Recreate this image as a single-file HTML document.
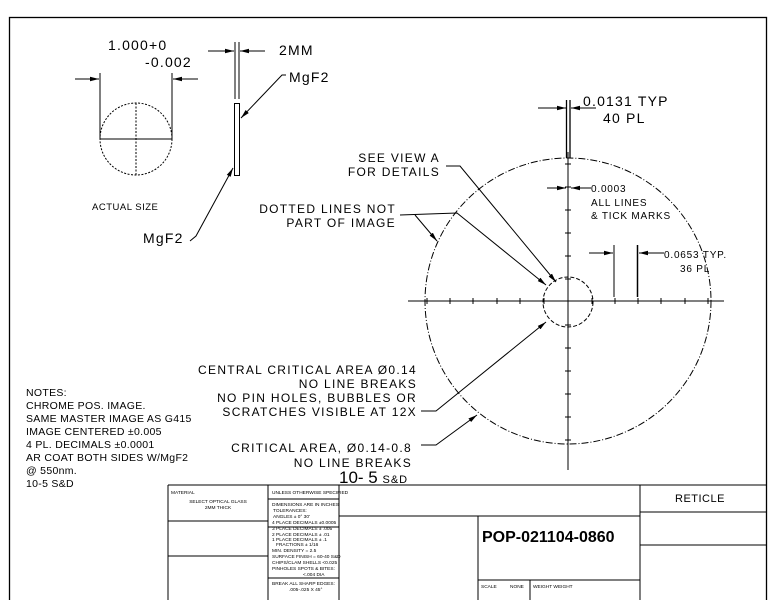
<!DOCTYPE html><html><head><style>body{margin:0;background:#fff}svg{display:block}text{font-family:"Liberation Sans",sans-serif;fill:#000}</style></head><body>
<svg width="776" height="600" viewBox="0 0 776 600" xmlns="http://www.w3.org/2000/svg">
<defs><marker id="a" markerWidth="10" markerHeight="6" refX="9" refY="3" orient="auto" markerUnits="userSpaceOnUse"><path d="M0,0.8 L9,3 L0,5.2z" fill="#000"/></marker></defs>
<g stroke="#000" fill="none" stroke-width="1">
<rect x="9.5" y="17.5" width="757" height="590" stroke-width="1.3"/>
<circle cx="136" cy="139" r="36" stroke-dasharray="2,1.5"/>
<line x1="100" y1="139" x2="172" y2="139"/><line x1="136" y1="103" x2="136" y2="175" stroke-dasharray="2,1.5"/>
<line x1="100" y1="73" x2="100" y2="139"/><line x1="172" y1="73" x2="172" y2="139"/>
<line x1="75" y1="79" x2="99" y2="79" marker-end="url(#a)"/><line x1="198" y1="79" x2="173" y2="79" marker-end="url(#a)"/>
<rect x="234.5" y="103.5" width="5" height="72"/>
<line x1="235" y1="42" x2="235" y2="99"/><line x1="239" y1="42" x2="239" y2="99"/>
<line x1="208" y1="51" x2="234" y2="51" marker-end="url(#a)"/><line x1="265" y1="51" x2="240" y2="51" marker-end="url(#a)"/>
<polyline points="286,75 282,75 241,118" marker-end="url(#a)"/>
<polyline points="190,241 196,236 233,168" marker-end="url(#a)"/>
<circle cx="568" cy="301" r="143" stroke-dasharray="7,2,1,2"/>
<circle cx="568" cy="302" r="25" stroke-dasharray="4,2"/>
<line x1="408" y1="301" x2="724" y2="301"/>
<line x1="568" y1="152" x2="568" y2="470"/>
<path d="M427,298v6M450,298v6M473,298v6M497,298v6M520,298v6M544,298v6M592,298v6M615,298v6M638,298v6M661,298v6M685,298v6M708,298v6"/>
<path d="M565,164h6M565,187h6M565,210h6M565,233h6M565,256h6M565,279h6M565,325h6M565,348h6M565,371h6M565,394h6M565,417h6M565,440h6"/>
<line x1="566.5" y1="100" x2="566.5" y2="158" stroke-width="1.3"/><line x1="570" y1="100" x2="570" y2="158" stroke-width="1.3"/>
<line x1="538" y1="108" x2="566" y2="108" marker-end="url(#a)"/><line x1="596" y1="108" x2="571" y2="108" marker-end="url(#a)"/>
<line x1="547" y1="188" x2="566" y2="188" marker-end="url(#a)"/><line x1="591" y1="188" x2="571" y2="188" marker-end="url(#a)"/>
<line x1="614" y1="245" x2="614" y2="297"/><line x1="637.5" y1="245" x2="637.5" y2="297" stroke-width="1.5"/>
<line x1="589" y1="253" x2="613" y2="253" marker-end="url(#a)"/><line x1="664" y1="253" x2="639" y2="253" marker-end="url(#a)"/>
<polyline points="446,166 460,166 556,282" marker-end="url(#a)"/>
<polyline points="400,215 457,213 546,285" marker-end="url(#a)"/>
<line x1="415" y1="215" x2="437" y2="241" marker-end="url(#a)"/>
<polyline points="421,411 436,411 546,322" marker-end="url(#a)"/>
<polyline points="421,445 436,445 477,415" marker-end="url(#a)"/>
<line x1="168" y1="485" x2="767" y2="485"/>
<line x1="168" y1="485" x2="168" y2="600"/><line x1="268" y1="485" x2="268" y2="600"/><line x1="339" y1="485" x2="339" y2="600"/><line x1="640" y1="485" x2="640" y2="600"/>
<line x1="168" y1="521" x2="268" y2="521"/><line x1="168" y1="556" x2="268" y2="556"/>
<line x1="268" y1="499" x2="339" y2="499"/><line x1="268" y1="527" x2="339" y2="527"/><line x1="268" y1="578" x2="339" y2="578"/>
<line x1="339" y1="516" x2="640" y2="516"/>
<line x1="478" y1="516" x2="478" y2="600"/>
<line x1="478" y1="580" x2="640" y2="580"/><line x1="530" y1="580" x2="530" y2="600"/>
<line x1="640" y1="512" x2="767" y2="512"/><line x1="640" y1="545" x2="767" y2="545"/>
</g>
<g font-size="14" letter-spacing="1.2">
<text x="108" y="50">1.000+0</text><text x="145" y="67">-0.002</text>
<text x="279" y="55">2MM</text><text x="289" y="82">MgF2</text><text x="143" y="243">MgF2</text>
<text x="583" y="106">0.0131 TYP</text><text x="603" y="123">40 PL</text>
</g>
<text x="92" y="210" font-size="9.5" letter-spacing="0.5">ACTUAL SIZE</text>
<g font-size="12" text-anchor="end" letter-spacing="1.3">
<text x="440" y="162">SEE VIEW A</text><text x="440" y="176">FOR DETAILS</text>
<text x="396" y="213">DOTTED LINES NOT</text><text x="396" y="227">PART OF IMAGE</text>
<text x="417" y="374">CENTRAL CRITICAL AREA Ø0.14</text><text x="417" y="388">NO LINE BREAKS</text>
<text x="417" y="402">NO PIN HOLES, BUBBLES OR</text><text x="417" y="416">SCRATCHES VISIBLE AT 12X</text>
<text x="412" y="452">CRITICAL AREA, Ø0.14-0.8</text><text x="412" y="467">NO LINE BREAKS</text>
</g>
<text x="339" y="483" font-size="17">10- 5 <tspan font-size="11" letter-spacing="1">S&amp;D</tspan></text>
<g font-size="10" letter-spacing="0.8"><text x="591" y="192">0.0003</text><text x="591" y="206">ALL LINES</text><text x="591" y="219">&amp; TICK MARKS</text>
<text x="664" y="258">0.0653 TYP.</text><text x="680" y="272">36 PL</text></g>
<g font-size="10.5" letter-spacing="0.3"><text x="26" y="396">NOTES:</text><text x="26" y="409">CHROME POS. IMAGE.</text><text x="26" y="422">SAME MASTER IMAGE AS G415</text><text x="26" y="435">IMAGE CENTERED ±0.005</text><text x="26" y="448">4 PL. DECIMALS ±0.0001</text><text x="26" y="461">AR COAT BOTH SIDES W/MgF2</text><text x="26" y="474">@ 550nm.</text><text x="26" y="487">10-5 S&amp;D</text></g>
<g font-size="4.8"><text x="171" y="494">MATERIAL</text><text x="218" y="503" text-anchor="middle">SELECT OPTICAL GLASS</text><text x="218" y="509" text-anchor="middle">2MM THICK</text>
<text x="272" y="494">UNLESS OTHERWISE SPECIFIED</text>
<text x="272" y="506">DIMENSIONS ARE IN INCHES</text><text x="273" y="512">TOLERANCES:</text><text x="273" y="518">ANGLES      ± 0° 30'</text>
<text x="272" y="524">4 PLACE DECIMALS ±0.0005</text><text x="272" y="530">3 PLACE DECIMALS ± .005</text><text x="272" y="536">2 PLACE DECIMALS ± .01</text><text x="272" y="541">1 PLACE DECIMALS ± .1</text><text x="276" y="546">FRACTIONS ± 1/16</text>
<text x="272" y="552">MIN. DENSITY = 2.5</text><text x="272" y="558">SURFACE FINISH = 60-40 S&amp;D</text><text x="272" y="564">CHIPS/CLAM SHELLS &lt;0.025</text><text x="272" y="570">PINHOLES SPOTS &amp; BITES:</text><text x="303" y="576">&lt;.004 DIA</text>
<text x="272" y="585">BREAK ALL SHARP EDGES:</text><text x="289" y="591">.005-.025 X 45°</text>
<text x="481" y="588">SCALE</text><text x="510" y="588">NONE</text><text x="533" y="588">WEIGHT WEIGHT</text></g>
<text x="675" y="502" font-size="11" letter-spacing="0.5">RETICLE</text>
<text x="482" y="542" font-size="16" font-weight="bold">POP-021104-0860</text>
</svg></body></html>
